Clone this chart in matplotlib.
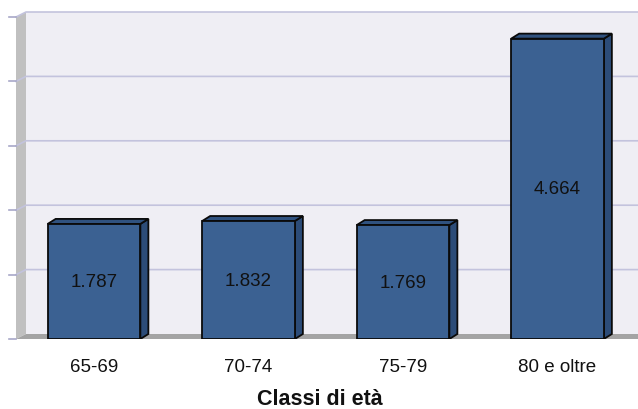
import matplotlib.pyplot as plt
from matplotlib.patches import Polygon, Rectangle

plt.rcParams['font.family'] = ['Liberation Sans', 'DejaVu Sans']

# data
categories = ['65-69', '70-74', '75-79', '80 e oltre']
values = [1787, 1832, 1769, 4664]
y_ticks = [0, 1000, 2000, 3000, 4000, 5000]
x_title = 'Classi di età'

front = '#3B6192'
side = '#2C4C78'
top = '#30527F'
wall_bg = '#EFEEF4'
grid_c = '#C3C3DD'

fig = plt.figure(figsize=(6.38, 4.10), dpi=100)
W, H = 638, 410
# front plane of the axes, in pixels
ax_l, ax_r, ax_b, ax_t = 16, 628, 340, 18
ax = fig.add_axes([ax_l / W, (H - ax_b) / H, (ax_r - ax_l) / W, (ax_b - ax_t) / H])

xl, xr = -0.505, -0.505 + (ax_r - ax_l) / 154.5
ymax = 5000
ax.set_xlim(xl, xr)
ax.set_ylim(0, ymax)
for s in ax.spines.values():
    s.set_visible(False)
ax.set_facecolor('none')

# pixel -> data units
px = (xr - xl) / (ax_r - ax_l)
py = ymax / (ax_b - ax_t)

# depth of the walls and of the bars
dxw, dyw = 10 * px, 5 * py
dxb, dyb = 8 * px, 5 * py

# back wall
ax.add_patch(Rectangle((xl + dxw, dyw), (xr - xl) + 20 * px, ymax, facecolor=wall_bg,
                       edgecolor='none', clip_on=False, zorder=0))
# left wall
ax.add_patch(Polygon([(xl, 0), (xl + dxw, dyw), (xl + dxw, ymax + dyw), (xl, ymax)],
                     closed=True, facecolor='#C0C0C0', edgecolor='none', clip_on=False, zorder=1))
# floor
ax.add_patch(Polygon([(xl, 0), (xl + dxw, dyw), (xr + 20 * px, dyw), (xr + 20 * px, 0)],
                     closed=True, facecolor='#A4A4A4', edgecolor='none', clip_on=False, zorder=1))

# grid lines on back wall + ticks
for v in y_ticks:
    if v > 0:
        ax.plot([xl, xl + dxw, xr + 20 * px], [v, v + dyw, v + dyw], color=grid_c, lw=1.2,
                clip_on=False, zorder=2)
    ax.plot([xl - 7 * px, xl], [v, v], color='#A8A8C8', lw=1.2, clip_on=False, zorder=2)

# bars
w = 0.6
xs = list(range(len(categories)))
bars = ax.bar(xs, values, width=w, color=front, edgecolor='#0A0A0A', lw=1.3, zorder=5)
for x, v in zip(xs, values):
    r = x + w / 2
    l = x - w / 2
    ax.add_patch(Polygon([(r, 0), (r + dxb, dyb), (r + dxb, v + dyb), (r, v)], closed=True,
                         facecolor=side, edgecolor='#0A0A0A', lw=1.3, zorder=4))
    ax.add_patch(Polygon([(l, v), (l + dxb, v + dyb), (r + dxb, v + dyb), (r, v)], closed=True,
                         facecolor=top, edgecolor='#0A0A0A', lw=1.3, zorder=4))
    ax.text(x, v / 2, f'{v:,}'.replace(',', '.'), ha='center', va='center',
            fontsize=13.5, color='#111111', zorder=6)

ax.set_xticks(xs)
ax.set_xticklabels(categories, fontsize=13.5, color='#111111')
ax.set_yticks([])
ax.tick_params(axis='x', length=0, pad=14)

fig.text(320 / W, 5 / H, x_title, ha='center', va='baseline', fontsize=15.5,
         fontweight='bold', color='#111111')

fig.savefig('out.png', dpi=100)
